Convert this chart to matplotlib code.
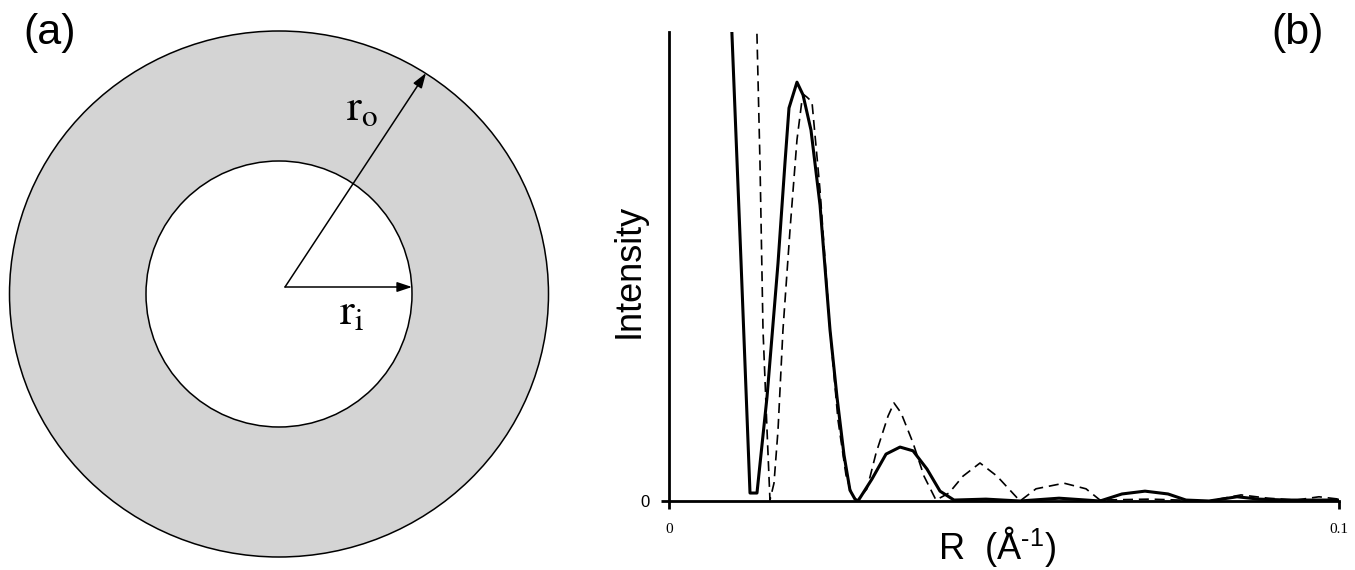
import numpy as np
import matplotlib.pyplot as plt
from matplotlib.patches import Ellipse, Circle

plt.rcParams['font.family'] = ['Liberation Sans', 'DejaVu Sans']
plt.rcParams['mathtext.fontset'] = 'stix'

# (a) annulus geometry, in panel pixels
centre = (279, 294)
outer_w, outer_h = 539, 526
inner_r = 133
arrow_origin = (285, 287)
ri_tip = (412, 287)
ro_tip = (426, 73)

# (b) intensity profiles, R in 1/Angstrom, intensity scaled to the axis top
R_solid = [0.0093, 0.01075, 0.01209, 0.01313, 0.01463, 0.01627, 0.01731, 0.01791,
           0.01910, 0.02000, 0.02119, 0.02254, 0.02403, 0.02507, 0.02612, 0.02701,
           0.02776, 0.02821, 0.03030, 0.03239, 0.03448, 0.03642, 0.03851, 0.04045,
           0.04254, 0.04731, 0.05239, 0.05821, 0.06433, 0.06761, 0.07104, 0.07448,
           0.07716, 0.08060, 0.08478, 0.08806, 0.09224, 0.1]
I_solid = [1.03, 0.510, 0.017, 0.017, 0.222, 0.507, 0.721, 0.838,
           0.893, 0.866, 0.791, 0.631, 0.365, 0.222, 0.098, 0.023,
           0.004, 0.0, 0.047, 0.100, 0.115, 0.107, 0.068, 0.021,
           0.002, 0.004, 0.0, 0.006, 0.0, 0.015, 0.021, 0.015,
           0.002, 0.0, 0.009, 0.004, 0.002, 0.002]

R_dash = [0.01307, 0.01358, 0.01403, 0.01463, 0.01507, 0.01567, 0.01627, 0.01701,
          0.01806, 0.01910, 0.01985, 0.02015, 0.02060, 0.02134, 0.02254, 0.02403,
          0.02522, 0.02642, 0.02731, 0.02806, 0.02955, 0.03090, 0.03269, 0.03358,
          0.03463, 0.03642, 0.03806, 0.03985, 0.04179, 0.04388, 0.04642, 0.04896,
          0.05239, 0.05478, 0.05896, 0.06224, 0.06433, 0.07179, 0.08060, 0.08537,
          0.08940, 0.09358, 0.09701, 0.1]
I_dash = [1.03, 0.721, 0.365, 0.151, 0.002, 0.038, 0.151, 0.365,
          0.578, 0.770, 0.855, 0.866, 0.861, 0.851, 0.663, 0.365,
          0.173, 0.055, 0.013, 0.0, 0.026, 0.102, 0.181, 0.209,
          0.188, 0.124, 0.053, 0.002, 0.017, 0.053, 0.081, 0.053,
          0.0, 0.026, 0.038, 0.026, 0.002, 0.004, 0.0, 0.013,
          0.006, 0.002, 0.009, 0.004]

fig = plt.figure(figsize=(13.55, 5.7), dpi=100)

# ---- panel (a)
axa = fig.add_axes([0, 0, 570 / 1355, 1])
axa.set_xlim(0, 570)
axa.set_ylim(570, 0)
axa.axis('off')
axa.add_patch(Ellipse(centre, outer_w, outer_h, facecolor='#d4d4d4',
                      edgecolor='black', lw=1.1))
axa.add_patch(Circle(centre, inner_r, facecolor='white', edgecolor='black', lw=1.1))
arrow = dict(arrowstyle='-|>,head_length=0.9,head_width=0.3', color='black',
             lw=1.1, shrinkA=0, shrinkB=0)
axa.annotate('', xy=ri_tip, xytext=arrow_origin, arrowprops=arrow)
axa.annotate('', xy=ro_tip, xytext=arrow_origin, arrowprops=arrow)
axa.text(362, 108, r'$\mathrm{r}_{\mathrm{o}}$', fontsize=32, ha='center', va='center')
axa.text(352, 312, r'$\mathrm{r}_{\mathrm{i}}$', fontsize=32, ha='center', va='center')
fig.text(50 / 1355, 1 - 33 / 570, '(a)', fontsize=31, ha='center', va='center')
fig.text(1298 / 1355, 1 - 33 / 570, '(b)', fontsize=31, ha='center', va='center')

# ---- panel (b)
ax = fig.add_axes([669 / 1355, 69 / 570, 670 / 1355, 469 / 570])
ax.plot(R_solid, I_solid, color='black', lw=2.2)
ax.plot(R_dash, I_dash, color='black', lw=1.2, linestyle=(0, (6, 3.5)))
ax.set_xlim(0, 0.1)
ax.set_ylim(0, 1)
for s in ['top', 'right']:
    ax.spines[s].set_visible(False)
for s in ['left', 'bottom']:
    ax.spines[s].set_linewidth(2)
ax.set_xticks([0, 0.1])
ax.set_xticklabels(['0', '0.1'], fontsize=11, family='Liberation Serif')
ax.set_yticks([0])
ax.set_yticklabels(['0'], fontsize=12)
ax.tick_params(axis='both', length=6, width=2)
ax.tick_params(axis='x', pad=10)
ax.tick_params(axis='y', pad=8)
ax.set_ylabel('Intensity', fontsize=26)
ax.yaxis.set_label_coords(-0.033, 0.49)
ax.set_xlabel('R  (Å$^{\\mathregular{\\text{-}1}}$)', fontsize=26)
ax.xaxis.set_label_coords(0.49, -0.05)

fig.savefig('out.png', dpi=100)
